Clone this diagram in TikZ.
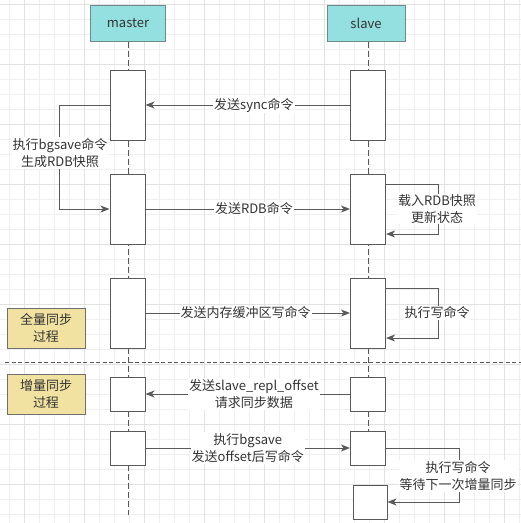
\documentclass[tikz,border=0pt]{standalone}
\usepackage{fontspec}
\setmainfont{Noto Sans CJK SC}
\usetikzlibrary{arrows.meta}
\definecolor{gridminor}{HTML}{EFEFEF}
\definecolor{gridmajor}{HTML}{E2E2E2}
\definecolor{lncol}{HTML}{595959}
\definecolor{txtcol}{HTML}{333333}
\definecolor{hdrfill}{HTML}{94DFE0}
\definecolor{hdrdraw}{HTML}{6E8A8A}
\definecolor{yelfill}{HTML}{F1E2A2}
\definecolor{yeldraw}{HTML}{6E6E6E}
\tikzset{
  every node/.style={font=\fontsize{13}{17}\selectfont, text=txtcol},
  hdr/.style={draw=hdrdraw, fill=hdrfill, line width=1pt, minimum height=36pt, inner sep=0pt},
  actbox/.style={draw=lncol, fill=white, line width=1pt, minimum width=35pt, inner sep=0pt},
  yel/.style={draw=yeldraw, fill=yelfill, line width=1pt, minimum width=78pt, minimum height=40pt, align=center, inner sep=0pt},
  lifeline/.style={draw=lncol, line width=1pt, dash pattern=on 6pt off 3pt},
  msg/.style={draw=lncol, line width=1pt, -{Stealth[length=9pt,width=7pt,inset=2.5pt]}},
  lbl/.style={fill=white, align=center, inner sep=1pt},
}
\begin{document}
\begin{tikzpicture}[x=1pt,y=-1pt]
\useasboundingbox (0,0) rectangle (521,523);
\fill[white] (0,0) rectangle (521,523);
% grid
\foreach \k in {0,...,34} {
  \draw[gridminor, line width=0.9pt] ({9.5+15*\k},0) -- ({9.5+15*\k},523);
  \draw[gridminor, line width=0.9pt] (0,{4.3+15*\k}) -- (521,{4.3+15*\k});
}
\foreach \k in {0,...,8} {
  \draw[gridmajor, line width=0.9pt] ({24.5+60*\k},0) -- ({24.5+60*\k},523);
  \draw[gridmajor, line width=0.9pt] (0,{4.3+60*\k}) -- (521,{4.3+60*\k});
}
% headers
\node[hdr, minimum width=75pt] (master) at (128,23) {master};
\node[hdr, minimum width=78pt] (slave) at (366,23) {slave};
% lifeline ends
\coordinate (mend) at (128,515);
\coordinate (send) at (368,465);
\draw[lifeline] (master.south) -- (mend);
\draw[lifeline] (slave.south -| send) -- (send);
% separator
\coordinate (sepL) at (5,362);
\coordinate (sepR) at (521,362);
\draw[draw=lncol, line width=1pt, dash pattern=on 4pt off 2.5pt] (sepL) -- (sepR);
% activation boxes
\node[actbox, minimum height=70pt] (m1) at (127.5,105) {};
\node[actbox, minimum height=70pt] (s1) at (368,105) {};
\node[actbox, minimum height=70pt] (m2) at (127.5,209) {};
\node[actbox, minimum height=70pt] (s2) at (368,209) {};
\node[actbox, minimum height=70pt] (m3) at (127.5,313) {};
\node[actbox, minimum height=70pt] (s3) at (368,313) {};
\node[actbox, minimum height=34pt] (m4) at (127.5,394) {};
\node[actbox, minimum height=34pt] (s4) at (368,394) {};
\node[actbox, minimum height=34pt] (m5) at (127.5,448) {};
\node[actbox, minimum height=34pt] (s5) at (368,448) {};
\node[actbox, minimum height=34pt, minimum width=34pt] (s6) at (370,502) {};
% phase boxes
\node[yel] (full) at (46,328) {全量同步\\过程};
\node[yel] (incr) at (46,394) {增量同步\\过程};
% messages
\draw[msg] (s1.west) -- node[lbl, pos=0.47] (l1) {发送sync命令} (m1.east);
\draw[msg] (m1.west) -- ++(-50,0) |- (m2.west);
\node[lbl] (l2) at (60,153) {执行bgsave命令\\生成RDB快照};
\draw[msg] (m2.east) -- node[lbl, pos=0.53] (l3) {发送RDB命令} (s2.west);
\draw[msg] ([yshift=25pt]s2.east) -- ++(52,0) |- ([yshift=-25pt]s2.east);
\node[lbl] (l4) at (437,209) {载入RDB快照\\更新状态};
\draw[msg] (m3.east) -- node[lbl, pos=0.49] (l5) {发送内存缓冲区写命令} (s3.west);
\draw[msg] ([yshift=25pt]s3.east) -- ++(52,0) |- ([yshift=-25pt]s3.east);
\node[lbl] (l6) at (437,313) {执行写命令};
\draw[msg] (s4.west) -- node[lbl, pos=0.47] (l7) {发送slave\_repl\_offset\\请求同步数据} (m4.east);
\draw[msg] (m5.east) -- node[lbl, pos=0.5] (l8) {执行bgsave\\发送offset后写命令} (s5.west);
\draw[msg] (s5.east) -- ++(73,0) |- (s6.east);
\node[lbl] (l9) at (458,476) {执行写命令\\等待下一次增量同步};
\end{tikzpicture}
\end{document}
